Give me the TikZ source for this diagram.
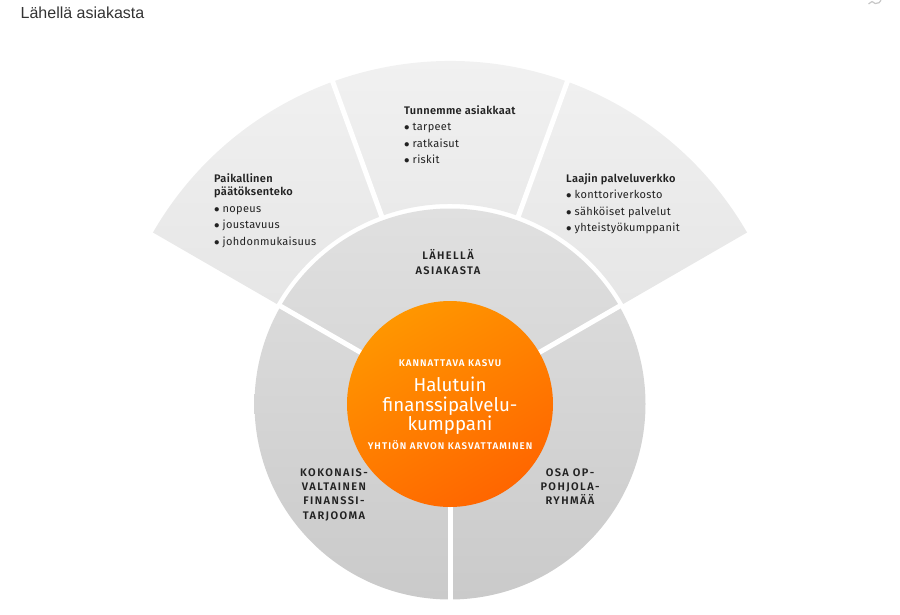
\documentclass[tikz,border=0pt]{standalone}
\usepackage{fontspec}
\setmainfont{Fira Sans}[BoldFont={Fira Sans SemiBold}, LetterSpace=3]
\newfontfamily\titlefont{Liberation Sans}
\newfontfamily\capsfont{Fira Sans}[BoldFont={Fira Sans SemiBold}, LetterSpace=13]
\newfontfamily\corefont{Fira Sans}[BoldFont={Fira Sans SemiBold}, LetterSpace=11]
\newfontfamily\bigfont{Fira Sans}
\usepackage{xcolor}
\definecolor{fantop}{RGB}{243,243,243}
\definecolor{fanbot}{RGB}{230,230,230}
\definecolor{disktop}{RGB}{224,224,224}
\definecolor{diskbot}{RGB}{202,202,202}
\definecolor{ortop}{RGB}{255,150,0}
\definecolor{orbot}{RGB}{255,102,0}
\definecolor{textdark}{RGB}{34,34,34}
\usepackage{tikz}
\newcommand\dotitem{$\bullet$\hspace{3pt}}

\begin{document}
\begin{tikzpicture}[x=1pt, y=1pt,
  sep/.style={white, line width=5pt},
  blurb/.style={anchor=north west, align=left, inner sep=0pt, text=textdark, font=\fontsize{11}{13.5}\selectfont},
  caps/.style={anchor=north, align=center, inner sep=0pt, text=textdark, font=\capsfont\bfseries\fontsize{11}{14.3}\selectfont},
  oncore/.style={anchor=base, inner sep=0pt, text=white, font=\corefont\bfseries\fontsize{9.7}{12}\selectfont}]
  \useasboundingbox (0,0) rectangle (900,-614);
  \coordinate (C) at (450,-404);
  \shade[top color=fantop, bottom color=fanbot] ([shift={(C)}]30:200) arc (30:150:200) -- ([shift={(C)}]150:343) arc (150:30:343) -- cycle;
  \draw[sep] ([shift={(C)}]70:197) -- ([shift={(C)}]70:346);
  \draw[sep] ([shift={(C)}]110:197) -- ([shift={(C)}]110:346);
  \shade[top color=disktop, bottom color=diskbot] (C) circle (195.5);
  \foreach \a in {30,150,270}
    \draw[sep] ([shift={(C)}]\a:100) -- ([shift={(C)}]\a:198);
  \shade[top color=ortop, bottom color=orbot, shading angle=30] (C) circle (103);
  \draw[black!22, line width=1.2pt] (872,-1.5) arc (215:360:5) (872,-1.5) -- (868.5,-4);

  \node[anchor=base west, inner sep=0pt, text=black!80, font=\titlefont\fontsize{16}{18}\selectfont] (title) at (20.5,-18.3) {Lähellä asiakasta};

  \node[blurb] (paatos) at (214,-173) {\textbf{Paikallinen}\\\textbf{päätöksenteko}\\[3pt]\dotitem nopeus\\[3pt]\dotitem joustavuus\\[3pt]\dotitem johdonmukaisuus};
  \node[blurb] (tunnemme) at (404,-105) {\textbf{Tunnemme asiakkaat}\\[3pt]\dotitem tarpeet\\[3pt]\dotitem ratkaisut\\[3pt]\dotitem riskit};
  \node[blurb] (verkko) at (566,-173) {\textbf{Laajin palveluverkko}\\[3pt]\dotitem konttoriverkosto\\[3pt]\dotitem sähköiset palvelut\\[3pt]\dotitem yhteistyökumppanit};

  \node[caps] (lahella) at (448,-249.5) {LÄHELLÄ\\ASIAKASTA};
  \node[caps] (tarjooma) at (334,-468.4) {KOKONAIS-\\VALTAINEN\\FINANSSI-\\TARJOOMA};
  \node[caps] (ryhma) at (570,-468.4) {OSA OP-\\POHJOLA-\\RYHMÄÄ};

  \node[oncore] (kasvu) at (450,-366) {KANNATTAVA KASVU};
  \node[anchor=north, align=center, inner sep=0pt, text=white, font=\bigfont\fontsize{18.7}{19.3}\selectfont] (kumppani) at (450,-377) {Halutuin\\finanssipalvelu-\\kumppani};
  \node[oncore] (arvo) at (450,-449.3) {YHTIÖN ARVON KASVATTAMINEN};
\end{tikzpicture}
\end{document}
